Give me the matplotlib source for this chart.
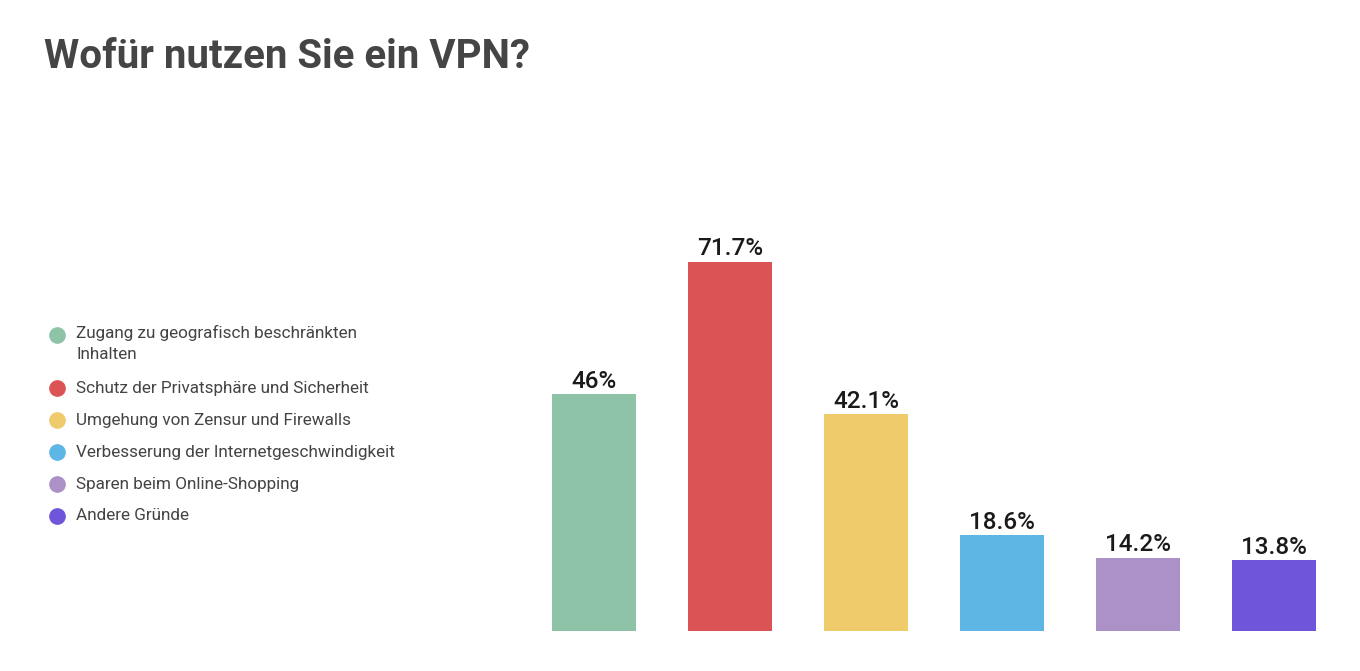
import matplotlib.pyplot as plt
from matplotlib.lines import Line2D

plt.rcParams['font.family'] = ['Roboto', 'DejaVu Sans']

categories = [
    "Zugang zu geografisch beschränkten\nInhalten",
    "Schutz der Privatsphäre und Sicherheit",
    "Umgehung von Zensur und Firewalls",
    "Verbesserung der Internetgeschwindigkeit",
    "Sparen beim Online-Shopping",
    "Andere Gründe",
]
values = [46, 71.7, 42.1, 18.6, 14.2, 13.8]
labels = ["46%", "71.7%", "42.1%", "18.6%", "14.2%", "13.8%"]
colors = ["#8FC3A8", "#DC5356", "#EFCB6B", "#5EB6E4", "#AC91C7", "#6E55D9"]

fig = plt.figure(figsize=(13.6, 6.71), dpi=100)
ax = fig.add_axes([0.3868, 0.0596, 0.6, 0.614])

x = range(len(values))
bars = ax.bar(x, values, width=0.618, color=colors)
for b, lab in zip(bars, labels):
    ax.annotate(lab, (b.get_x() + b.get_width() / 2, b.get_height()),
                xytext=(0, 1), textcoords='offset points',
                ha='center', va='bottom', fontsize=17.5, color='#1a1a1a',
                fontweight='medium')

ax.set_xlim(-0.5, 5.5)
ax.set_ylim(0, 80)
ax.axis('off')

fig.text(44 / 1360, 1 - 68 / 671, "Wofür nutzen Sie ein VPN?", fontsize=29,
         fontweight='bold', color='#454545', ha='left', va='baseline')

# legend drawn by hand
ys = [335, 388, 420, 452, 484, 516]
for cat, col, y in zip(categories, colors, ys):
    fy = 1 - y / 671
    fig.add_artist(Line2D([57 / 1360], [fy], marker='o', markersize=11,
                          color=col, linestyle='none', transform=fig.transFigure))
    if '\n' in cat:
        fig.text(76 / 1360, fy + 10 / 671, cat, fontsize=12.3, color='#444444',
                 ha='left', va='top', linespacing=1.5)
    else:
        fig.text(76 / 1360, fy, cat, fontsize=12.3, color='#444444',
                 ha='left', va='center')

fig.savefig("out.png", dpi=100)
